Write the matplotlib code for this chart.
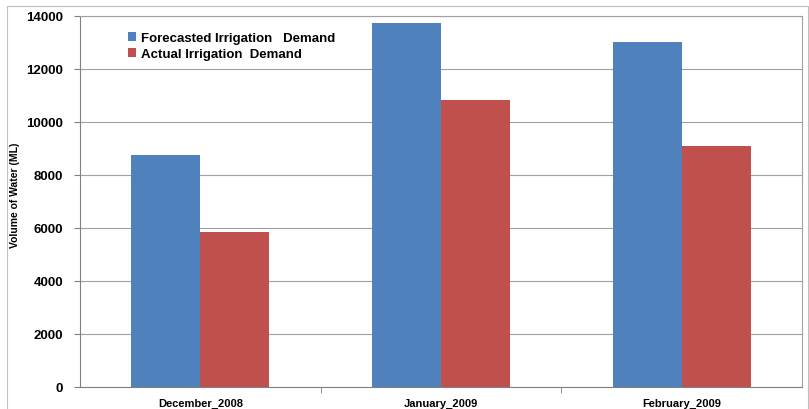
import numpy as np
import matplotlib.pyplot as plt
from matplotlib.patches import Rectangle

months = ["December_2008", "January_2009", "February_2009"]
forecasted = [8750, 13730, 13000]
actual = [5850, 10830, 9100]

plt.rcParams['font.family'] = ['Liberation Sans', 'DejaVu Sans']
plt.rcParams['font.weight'] = 'bold'

fig = plt.figure(figsize=(8.09, 4.10), dpi=100)
ax = fig.add_axes([80 / 809, 1 - 388 / 410, 722 / 809, 371 / 410])

# outer chart border
fig.patches.append(Rectangle((7 / 809, -0.05), 801 / 809, 1.05 - 7 / 410,
                             transform=fig.transFigure, fill=False,
                             edgecolor="#bfbfbf", linewidth=0.8))

x = np.arange(len(months))
w = 0.287
ax.bar(x - w / 2, forecasted, w, color="#4F81BD", label="Forecasted Irrigation   Demand", zorder=3)
ax.bar(x + w / 2, actual, w, color="#C0504D", label="Actual Irrigation  Demand", zorder=3)

ax.set_xlim(-0.5, 2.5)
ax.set_ylim(0, 14000)
ax.set_yticks(range(0, 14001, 2000))
ax.set_xticks(x)
ax.set_xticklabels(months, fontsize=8, fontweight="bold")
ax.set_xticks([0.5, 1.5], minor=True)
ax.tick_params(axis="x", which="major", length=0, pad=8)
ax.tick_params(axis="x", which="minor", length=4, color="#808080")
ax.tick_params(axis="y", length=4, color="#808080", labelsize=9.5, pad=8)
for t in ax.get_yticklabels():
    t.set_fontweight("bold")

ax.yaxis.grid(True, color="#a0a0a0", linewidth=0.8, zorder=0)
for s in ["top", "right"]:
    ax.spines[s].set_color("#a0a0a0")
for s in ["left", "bottom"]:
    ax.spines[s].set_color("#808080")

ax.set_ylabel("Volume of Water (ML)", fontsize=7.5, fontweight="bold", fontstretch="condensed",
              va="center")
ax.yaxis.set_label_coords(-65 / 722, 0.52)

ax.legend(loc="upper left", bbox_to_anchor=(0.05, 0.988), frameon=False,
          prop={"size": 9.5, "weight": "bold"}, handlelength=0.6, handleheight=0.6,
          handletextpad=0.4, labelspacing=0.3)

fig.savefig("out.png", dpi=100)
